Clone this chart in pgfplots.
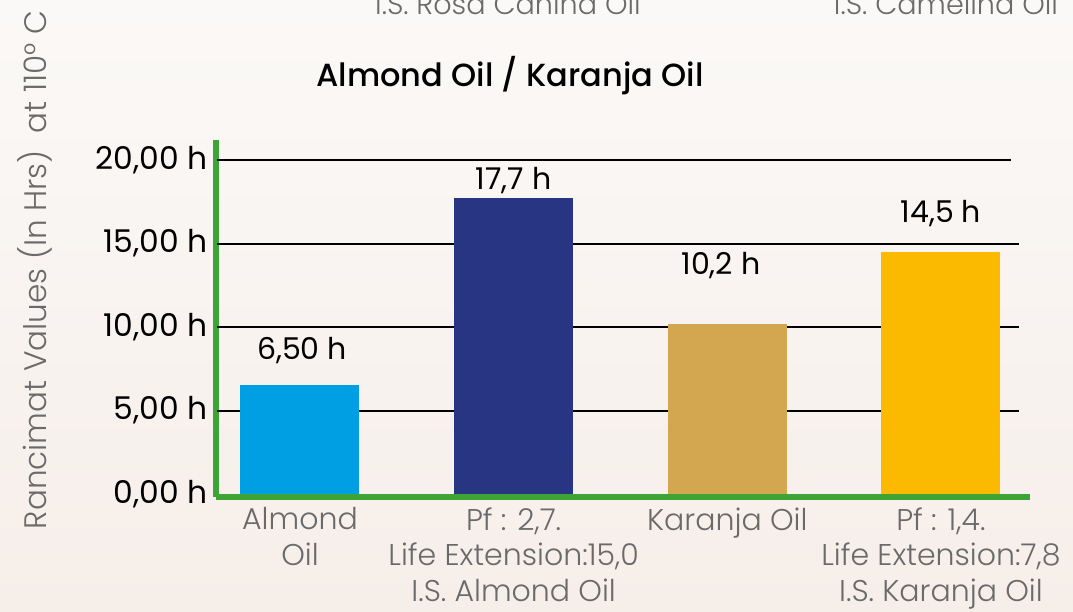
\documentclass[border=0pt]{standalone}
\usepackage{fontspec}
\setmainfont{Poppins}
\newfontfamily\lightfont{Poppins Light}
\newfontfamily\medfont{Poppins Medium}
\usepackage{pgfplots}
\pgfplotsset{compat=1.18}
\definecolor{bgtop}{HTML}{FBF9F7}
\definecolor{bgbot}{HTML}{F6EEE9}
\definecolor{labelgray}{HTML}{6A6A6A}
\definecolor{axgreen}{HTML}{3DA535}
\definecolor{cAlmond}{HTML}{009FE3}
\definecolor{cPfA}{HTML}{283583}
\definecolor{cKaranja}{HTML}{D3A650}
\definecolor{cPfK}{HTML}{FBBA00}
\begin{document}
\begin{tikzpicture}
\useasboundingbox (0,0) rectangle (804.75pt,458.25pt);
\clip (0,0) rectangle (804.75pt,458.25pt);
\shade[top color=bgtop, bottom color=bgbot] (0,0) rectangle (804.75pt,458.25pt);
\node[anchor=base, font=\lightfont\fontsize{21.5}{25}\selectfont, text=labelgray] at (381pt,447.5pt) {I.S. Rosa Canina Oil};
\node[anchor=base, font=\lightfont\fontsize{21.5}{25}\selectfont, text=labelgray] at (709.5pt,447.5pt) {I.S. Camelina Oil};
\node[font=\medfont\fontsize{24}{28}\selectfont] at (382.5pt,401.25pt) {Almond Oil / Karanja Oil};
\node[rotate=90, font=\lightfont\fontsize{23.3}{27}\selectfont, text=labelgray] at (26.25pt,255.75pt) {Rancimat Values (In Hrs)\ \ at 110° C};
\begin{axis}[
  at={(162pt,85.5pt)}, anchor=south west,
  scale only axis, width=610.5pt, height=267.75pt,
  xmin=-0.393, xmax=3.417, ymin=-0.18, ymax=21.2,
  axis x line*=bottom, axis y line*=left,
  axis line style={draw=axgreen, line width=4.5pt},
  major tick length=0pt,
  ytick={0,5,10,15,20},
  yticklabels={{0,00 h},{5,00 h},{10,00 h},{15,00 h},{20,00 h}},
  yticklabel style={font=\fontsize{23.5}{27}\selectfont, text=black, anchor=east, xshift=-3pt},
  xtick={0,1,2,3},
  xticklabels={{Almond\\Oil},{Pf : 2,7.\\Life Extension:15,0\\I.S. Almond Oil},{Karanja Oil},{Pf : 1,4.\\Life Extension:7,8\\I.S. Karanja Oil}},
  xticklabel style={align=center, font=\lightfont\fontsize{22.5}{26.5}\selectfont, text=labelgray, anchor=north, yshift=-4.5pt},
  clip=false,
]
\addplot[black, line width=1.5pt, forget plot] coordinates {(-0.39,5) (3.366,5)};
\addplot[black, line width=1.5pt, forget plot] coordinates {(-0.39,10) (3.366,10)};
\addplot[black, line width=1.5pt, forget plot] coordinates {(-0.39,15) (3.366,15)};
\addplot[black, line width=1.5pt, forget plot] coordinates {(-0.39,20) (3.33,20)};
\addplot[ybar, bar width=0.557, fill=cAlmond, draw=none] coordinates {(0,6.5)};
\addplot[ybar, bar width=0.557, fill=cPfA, draw=none] coordinates {(1,17.7)};
\addplot[ybar, bar width=0.557, fill=cKaranja, draw=none] coordinates {(2,10.2)};
\addplot[ybar, bar width=0.557, fill=cPfK, draw=none] coordinates {(3,14.5)};
\node[font=\fontsize{22.5}{26}\selectfont] at (axis cs:0.01,8.6) {6,50 h};
\node[font=\fontsize{22.5}{26}\selectfont] at (axis cs:1.0,18.8) {17,7 h};
\node[font=\fontsize{22.5}{26}\selectfont] at (axis cs:1.97,13.7) {10,2 h};
\node[font=\fontsize{22.5}{26}\selectfont] at (axis cs:3.0,16.8) {14,5 h};
\end{axis}
\end{tikzpicture}
\end{document}
